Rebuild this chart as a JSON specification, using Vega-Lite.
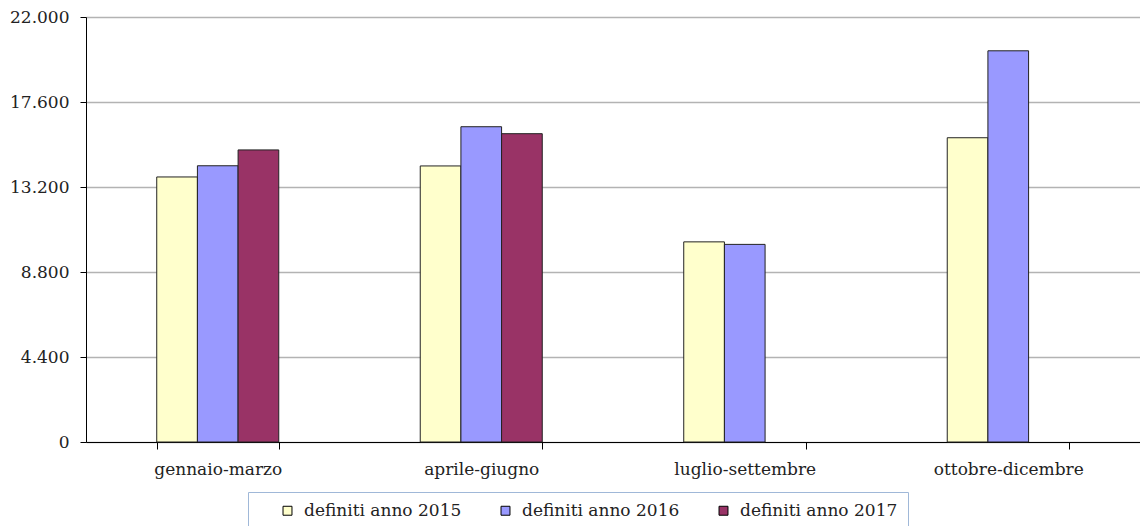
{
  "$schema": "https://vega.github.io/schema/vega-lite/v6.json",
  "width": 1054,
  "height": 425,
  "autosize": {"type": "none"},
  "padding": {"left": 86, "top": 17, "right": 0, "bottom": 84},
  "background": "white",
  "data": {
    "values": [
      {"periodo": "gennaio-marzo", "serie": "definiti anno 2015", "valore": 13720},
      {"periodo": "gennaio-marzo", "serie": "definiti anno 2016", "valore": 14300},
      {"periodo": "gennaio-marzo", "serie": "definiti anno 2017", "valore": 15120},
      {"periodo": "aprile-giugno", "serie": "definiti anno 2015", "valore": 14290},
      {"periodo": "aprile-giugno", "serie": "definiti anno 2016", "valore": 16320},
      {"periodo": "aprile-giugno", "serie": "definiti anno 2017", "valore": 15960},
      {"periodo": "luglio-settembre", "serie": "definiti anno 2015", "valore": 10360},
      {"periodo": "luglio-settembre", "serie": "definiti anno 2016", "valore": 10230},
      {"periodo": "ottobre-dicembre", "serie": "definiti anno 2015", "valore": 15750},
      {"periodo": "ottobre-dicembre", "serie": "definiti anno 2016", "valore": 20250}
    ]
  },
  "mark": {"type": "bar", "stroke": "#222222", "strokeWidth": 1},
  "encoding": {
    "x": {
      "field": "periodo",
      "type": "nominal",
      "sort": ["gennaio-marzo", "aprile-giugno", "luglio-settembre", "ottobre-dicembre"],
      "scale": {"paddingInner": 0.537, "paddingOuter": 0.2685},
      "axis": {
        "title": null,
        "labelAngle": 0,
        "tickBand": "extent",
        "domainColor": "#000000",
        "tickColor": "#000000",
        "tickSize": 7,
        "labelPadding": 12,
        "labelFont": "DejaVu Serif",
        "labelFontSize": 17,
        "labelColor": "#222222",
        "grid": false
      }
    },
    "xOffset": {
      "field": "serie",
      "type": "nominal",
      "scale": {"paddingInner": 0, "paddingOuter": 0}
    },
    "y": {
      "field": "valore",
      "type": "quantitative",
      "scale": {"domain": [0, 22000], "nice": false},
      "axis": {
        "title": null,
        "values": [0, 4400, 8800, 13200, 17600, 22000],
        "labelExpr": "replace(format(datum.value, ','), ',', '.')",
        "domainColor": "#000000",
        "tickColor": "#000000",
        "tickSize": 6,
        "labelPadding": 11,
        "labelFont": "DejaVu Serif",
        "labelFontSize": 17,
        "labelColor": "#222222",
        "grid": true,
        "gridColor": "#b3b3b3",
        "gridWidth": 1.5
      }
    },
    "color": {
      "field": "serie",
      "type": "nominal",
      "scale": {
        "domain": ["definiti anno 2015", "definiti anno 2016", "definiti anno 2017"],
        "range": ["#FFFFCC", "#9999FF", "#993366"]
      },
      "legend": {
        "orient": "none",
        "direction": "horizontal",
        "legendX": 162,
        "legendY": 475,
        "title": "\u00a0",
        "titleOrient": "left",
        "titlePadding": 21,
        "padding": 10,
        "strokeColor": "#a0b8d8",
        "symbolType": "square",
        "symbolSize": 80,
        "symbolStrokeColor": "#000000",
        "symbolStrokeWidth": 1,
        "symbolOffset": 0,
        "labelOffset": 8,
        "columnPadding": 35,
        "labelFont": "DejaVu Serif",
        "labelFontSize": 17,
        "labelColor": "#222222",
        "labelLimit": 300
      }
    }
  },
  "config": {"view": {"stroke": null}}
}
